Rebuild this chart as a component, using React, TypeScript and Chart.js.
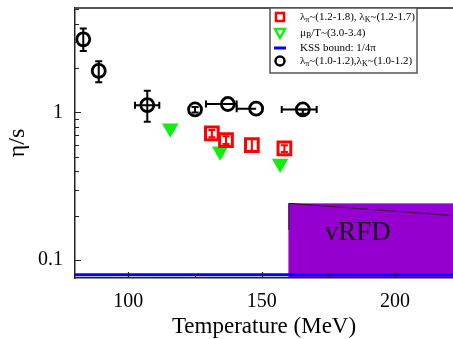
import React, { useEffect, useRef } from 'react';
import { Chart, registerables } from 'chart.js';

Chart.register(...registerables);

const FONT = "'Liberation Serif', 'DejaVu Serif', serif";

// Axis ranges
const X_MIN = 80;
const X_MAX = 221.7;
const Y_MIN = 0.0755;
const Y_MAX = 5.1;

// Tick positions
const xMajorTicks = [100, 150, 200];
const xMinorTicks = [125, 175];
const yMajorTicks = [0.1, 1];
const yMinorTicks = [0.2, 0.3, 0.4, 0.5, 0.6, 0.7, 0.8, 0.9, 2, 3, 4, 5];

// Black circles: λπ~(1.0-1.2), λK~(1.0-1.2)
const blackT = [83.1, 88.9, 107.1, 125.0, 137.3, 147.9, 165.4];
const blackEta = [3.13, 1.91, 1.12, 1.047, 1.14, 1.06, 1.047];
const blackEtaLo = [2.61, 1.6, 0.863, 1.0, 1.14, 1.06, 0.98];
const blackEtaHi = [3.7, 2.22, 1.4, 1.09, 1.14, 1.06, 1.047];
const blackTLo = [83.1, 88.9, 102.5, 125.0, 129.1, 140.6, 157.5];
const blackTHi = [83.1, 88.9, 111.6, 125.0, 140.6, 147.9, 170.6];

// Red squares: λπ~(1.2-1.8), λK~(1.2-1.7)
const redT = [131.3, 136.6, 146.3, 158.5];
const redEta = [0.72, 0.65, 0.6, 0.57];
const redEtaLo = [0.68, 0.61, 0.55, 0.54];
const redEtaHi = [0.76, 0.69, 0.66, 0.6];

// Green triangles: μB/T~(3.0-3.4)
const greenT = [115.7, 134.4, 156.9];
const greenEta = [0.78, 0.545, 0.45];
const greenEtaLo = [0.75, 0.52, 0.43];
const greenEtaHi = [0.81, 0.57, 0.47];

// KSS bound
const KSS = 1 / (4 * Math.PI);

// vRFD region
const vrfdT0 = 160;
const vrfdTop0 = 0.242;
const vrfdTop1 = 0.2;
const vrfdEdgeLow = 0.16;
const vrfdLabelT = 186;
const vrfdLabelEta = 0.137;

const RED = '#ff0000';
const GREEN = '#11ee11';
const BLUE = '#0000ff';
const PURPLE = '#9500d0';

const toPts = (xs: number[], ys: number[]) => xs.map((x, i) => ({ x, y: ys[i] }));

const zeroPad = (s: any) => {
  s.paddingTop = 0;
  s.paddingBottom = 0;
  s.paddingLeft = 0;
  s.paddingRight = 0;
};

const overlayPlugin = {
  id: 'overlay',
  beforeDatasetsDraw(chart: any) {
    const { ctx, chartArea } = chart;
    const xs = chart.scales.x;
    const ys = chart.scales.y;
    ctx.save();
    // vRFD region
    const x0 = xs.getPixelForValue(vrfdT0);
    const x1 = chartArea.right;
    const yt0 = ys.getPixelForValue(vrfdTop0);
    const yt1 = ys.getPixelForValue(vrfdTop1);
    ctx.fillStyle = PURPLE;
    ctx.fillRect(x0, yt0, x1 - x0, chartArea.bottom - 1 - yt0);
    ctx.strokeStyle = '#330033';
    ctx.lineWidth = 1;
    ctx.beginPath();
    ctx.moveTo(x0 + 0.5, ys.getPixelForValue(vrfdEdgeLow));
    ctx.lineTo(x0 + 0.5, yt0);
    ctx.lineTo(x1, yt1);
    ctx.stroke();
    ctx.fillStyle = '#111';
    ctx.font = `27px ${FONT}`;
    ctx.textAlign = 'center';
    ctx.textBaseline = 'alphabetic';
    ctx.fillText('vRFD', xs.getPixelForValue(vrfdLabelT), ys.getPixelForValue(vrfdLabelEta));

    // error bars
    const cap = 3.5;
    const drawErr = (T: number[], E: number[], lo: number[], hi: number[], tlo: number[] | null, thi: number[] | null, color: string) => {
      ctx.strokeStyle = color;
      ctx.lineWidth = 2;
      T.forEach((t, i) => {
        const px = xs.getPixelForValue(t);
        const py = ys.getPixelForValue(E[i]);
        if (hi[i] > lo[i]) {
          const a = ys.getPixelForValue(hi[i]);
          const b = ys.getPixelForValue(lo[i]);
          ctx.beginPath();
          ctx.moveTo(px, a); ctx.lineTo(px, b);
          ctx.moveTo(px - cap, a); ctx.lineTo(px + cap, a);
          ctx.moveTo(px - cap, b); ctx.lineTo(px + cap, b);
          ctx.stroke();
        }
        if (tlo && thi && thi[i] > tlo[i]) {
          const a = xs.getPixelForValue(tlo[i]);
          const b = xs.getPixelForValue(thi[i]);
          ctx.beginPath();
          ctx.moveTo(a, py); ctx.lineTo(b, py);
          if (tlo[i] < t) { ctx.moveTo(a, py - cap); ctx.lineTo(a, py + cap); }
          if (thi[i] > t) { ctx.moveTo(b, py - cap); ctx.lineTo(b, py + cap); }
          ctx.stroke();
        }
      });
    };
    drawErr(redT, redEta, redEtaLo, redEtaHi, null, null, RED);
    drawErr(greenT, greenEta, greenEtaLo, greenEtaHi, null, null, GREEN);
    drawErr(blackT, blackEta, blackEtaLo, blackEtaHi, blackTLo, blackTHi, '#000');
    ctx.restore();
  },
  afterDraw(chart: any) {
    const { ctx, chartArea } = chart;
    const xs = chart.scales.x;
    const ys = chart.scales.y;
    ctx.save();
    // inward ticks
    ctx.strokeStyle = '#222';
    ctx.lineWidth = 1.2;
    ctx.beginPath();
    xMajorTicks.forEach((v) => {
      const p = Math.round(xs.getPixelForValue(v)) + 0.5;
      ctx.moveTo(p, chartArea.bottom); ctx.lineTo(p, chartArea.bottom - 6);
    });
    xMinorTicks.forEach((v) => {
      const p = Math.round(xs.getPixelForValue(v)) + 0.5;
      ctx.moveTo(p, chartArea.bottom); ctx.lineTo(p, chartArea.bottom - 4);
    });
    yMajorTicks.forEach((v) => {
      const p = Math.round(ys.getPixelForValue(v)) + 0.5;
      ctx.moveTo(chartArea.left, p); ctx.lineTo(chartArea.left + 6, p);
    });
    yMinorTicks.forEach((v) => {
      const p = Math.round(ys.getPixelForValue(v)) + 0.5;
      ctx.moveTo(chartArea.left, p); ctx.lineTo(chartArea.left + 4, p);
    });
    ctx.stroke();
    // top frame
    ctx.strokeStyle = '#555';
    ctx.lineWidth = 2;
    ctx.beginPath();
    ctx.moveTo(chartArea.left, chartArea.top);
    ctx.lineTo(chartArea.right, chartArea.top);
    ctx.stroke();

    // legend
    const lx = 270, ly = chartArea.top, lw = 147, lh = 65;
    ctx.fillStyle = '#fff';
    ctx.fillRect(lx, ly, lw, lh);
    ctx.strokeStyle = '#555';
    ctx.lineWidth = 1.5;
    ctx.strokeRect(lx, ly, lw, lh);

    const sx = 280;
    const rows = [ly + 9, ly + 25, ly + 40, ly + 53];
    // red square
    ctx.strokeStyle = RED; ctx.lineWidth = 2.5;
    ctx.strokeRect(sx - 4, rows[0] - 4, 8, 8);
    // green triangle
    ctx.strokeStyle = GREEN; ctx.lineWidth = 2.5;
    ctx.beginPath();
    ctx.moveTo(sx - 5, rows[1] - 4); ctx.lineTo(sx + 5, rows[1] - 4); ctx.lineTo(sx, rows[1] + 5); ctx.closePath();
    ctx.stroke();
    // blue line
    ctx.strokeStyle = BLUE; ctx.lineWidth = 3;
    ctx.beginPath(); ctx.moveTo(sx - 6, rows[2]); ctx.lineTo(sx + 6, rows[2]); ctx.stroke();
    // black circle
    ctx.strokeStyle = '#000'; ctx.lineWidth = 2.5;
    ctx.beginPath(); ctx.arc(sx, rows[3], 4.5, 0, Math.PI * 2); ctx.stroke();

    // legend text with subscripts
    const tx = 300;
    const drawRich = (parts: [string, boolean][], y: number) => {
      let x = tx;
      ctx.fillStyle = '#000';
      ctx.textAlign = 'left';
      ctx.textBaseline = 'middle';
      parts.forEach(([s, sub]) => {
        ctx.font = sub ? `8px ${FONT}` : `11px ${FONT}`;
        ctx.fillText(s, x, sub ? y + 3 : y);
        x += ctx.measureText(s).width;
      });
    };
    drawRich([['λ', false], ['π', true], ['~(1.2-1.8), λ', false], ['K', true], ['~(1.2-1.7)', false]], rows[0]);
    drawRich([['μ', false], ['B', true], ['/T~(3.0-3.4)', false]], rows[1]);
    drawRich([['KSS bound: 1/4π', false]], rows[2]);
    drawRich([['λ', false], ['π', true], ['~(1.0-1.2),λ', false], ['K', true], ['~(1.0-1.2)', false]], rows[3]);
    ctx.restore();
  },
};

export default function App() {
  const canvasRef = useRef<HTMLCanvasElement | null>(null);

  useEffect(() => {
    document.body.style.margin = '0';
    const canvas = canvasRef.current;
    if (!canvas) return;
    Chart.defaults.font.family = FONT;
    const chart = new Chart(canvas, {
      type: 'scatter',
      data: {
        datasets: [
          {
            label: 'red',
            data: toPts(redT, redEta),
            pointStyle: 'rect',
            pointRadius: 9,
            borderColor: RED,
            backgroundColor: 'rgba(0,0,0,0)',
            borderWidth: 3,
          },
          {
            label: 'green',
            data: toPts(greenT, greenEta),
            pointStyle: 'triangle',
            rotation: 180,
            pointRadius: 7.5,
            borderColor: GREEN,
            backgroundColor: GREEN,
            borderWidth: 2,
          },
          {
            label: 'KSS',
            data: [{ x: X_MIN, y: KSS }, { x: X_MAX, y: KSS }],
            showLine: true,
            pointRadius: 0,
            borderColor: BLUE,
            borderWidth: 3,
          },
          {
            label: 'black',
            data: toPts(blackT, blackEta),
            pointStyle: 'circle',
            pointRadius: 6.5,
            borderColor: '#000',
            backgroundColor: 'rgba(0,0,0,0)',
            borderWidth: 2.8,
          },
        ],
      },
      options: {
        responsive: false,
        animation: false,
        devicePixelRatio: 1,
        layout: { autoPadding: false, padding: { top: 8, left: 0, right: 0, bottom: 0 } },
        plugins: { legend: { display: false }, tooltip: { enabled: false } },
        scales: {
          x: {
            type: 'linear',
            position: 'bottom',
            min: X_MIN,
            max: X_MAX,
            afterBuildTicks: (s: any) => { s.ticks = xMajorTicks.map((v) => ({ value: v })); },
            afterFit: (s: any) => { s.height = 61; zeroPad(s); },
            grid: { display: false, drawTicks: false },
            border: { display: true, color: '#222', width: 1.5 },
            ticks: {
              font: { family: FONT, size: 20 },
              color: '#000',
              padding: 12,
              maxRotation: 0,
              autoSkip: false,
              callback: (v: any) => String(v),
            },
            title: {
              display: true,
              text: 'Temperature (MeV)',
              color: '#000',
              font: { family: FONT, size: 23, lineHeight: 1 },
              padding: { top: 0, bottom: 1 },
            },
          },
          y: {
            type: 'logarithmic',
            min: Y_MIN,
            max: Y_MAX,
            afterBuildTicks: (s: any) => { s.ticks = yMajorTicks.map((v) => ({ value: v })); },
            afterFit: (s: any) => { s.width = 75; zeroPad(s); },
            grid: { display: false, drawTicks: false },
            border: { display: true, color: '#222', width: 1.5 },
            ticks: {
              font: { family: FONT, size: 20 },
              color: '#000',
              padding: 12,
              autoSkip: false,
              callback: (v: any) => String(v),
            },
            title: {
              display: true,
              text: 'η/s',
              color: '#000',
              font: { family: FONT, size: 24, lineHeight: 1 },
              padding: { top: 6, bottom: 0 },
            },
          },
        },
      },
      plugins: [overlayPlugin],
    } as any);
    return () => chart.destroy();
  }, []);

  return (
    <div style={{ width: 453, height: 339 }}>
      <canvas ref={canvasRef} width={453} height={339} style={{ display: 'block' }} />
    </div>
  );
}
